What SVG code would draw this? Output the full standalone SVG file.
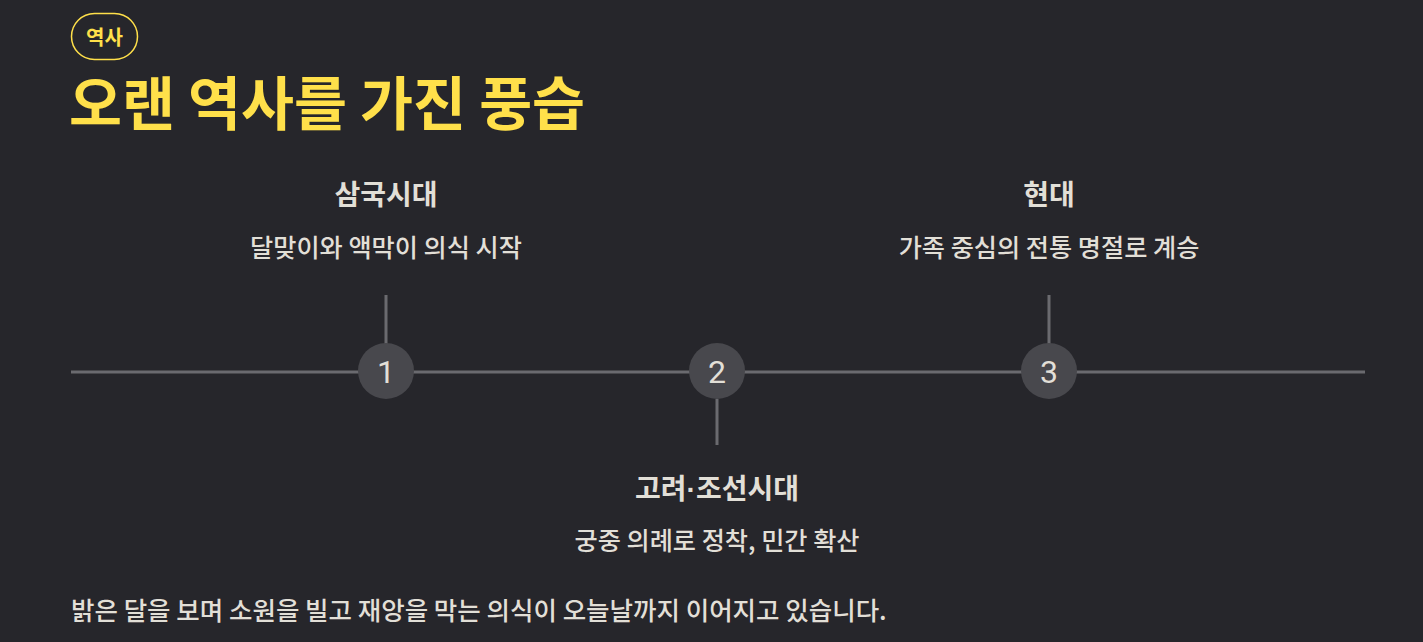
<svg xmlns="http://www.w3.org/2000/svg" width="1423" height="642" viewBox="0 0 1423 642">
<style>
.ko{font-family:"Noto Sans CJK KR","Noto Sans",sans-serif}
.t{fill:#e2dfd7;font-weight:700;font-size:28px;text-anchor:middle}
.s{fill:#e2dfd7;font-weight:500;font-size:25.2px;text-anchor:middle}
.n{fill:#e2dfd7;font-family:Roboto,"Noto Sans",sans-serif;font-size:32px;text-anchor:middle}
.c{fill:#48484d}
.ln{stroke:#6a6a6f;stroke-width:3;fill:none}
</style>
<rect width="1423" height="642" fill="#26262b"/>
<g id="badge">
<rect x="71.5" y="13.5" width="66" height="46" rx="23" fill="none" stroke="#ffe04a" stroke-width="1.5"/>
<text x="104.5" y="44.5" class="ko" fill="#ffe04a" font-size="20" font-weight="700" text-anchor="middle">역사</text>
</g>
<text id="title" x="69" y="124.5" class="ko" fill="#ffe04a" font-size="57.6" font-weight="700">오랜 역사를 가진 풍습</text>
<g id="connectors">
<line class="ln" x1="71" y1="372" x2="1365" y2="372"/>
<line class="ln" x1="386" y1="295" x2="386" y2="344"/>
<line class="ln" x1="717" y1="399" x2="717" y2="445"/>
<line class="ln" x1="1049" y1="295" x2="1049" y2="344"/>
</g>
<g id="node1">
<circle class="c" cx="386" cy="371" r="28"/>
<text class="n" x="386" y="382.5">1</text>
<text class="ko t" x="386" y="205">삼국시대</text>
<text class="ko s" x="386" y="257">달맞이와 액막이 의식 시작</text>
</g>
<g id="node2">
<circle class="c" cx="717" cy="371" r="28"/>
<text class="n" x="717" y="382.5">2</text>
<text class="ko t" x="717" y="499">고려<tspan font-family="Liberation Sans">·</tspan>조선시대</text>
<text class="ko s" x="717" y="550">궁중 의례로 정착, 민간 확산</text>
</g>
<g id="node3">
<circle class="c" cx="1049" cy="371" r="28"/>
<text class="n" x="1049" y="382.5">3</text>
<text class="ko t" x="1049" y="205">현대</text>
<text class="ko s" x="1049" y="257">가족 중심의 전통 명절로 계승</text>
</g>
<text id="footer" x="71" y="620" class="ko" fill="#e2dfd7" font-size="25.5" font-weight="500">밝은 달을 보며 소원을 빌고 재앙을 막는 의식이 오늘날까지 이어지고 있습니다.</text>
</svg>
